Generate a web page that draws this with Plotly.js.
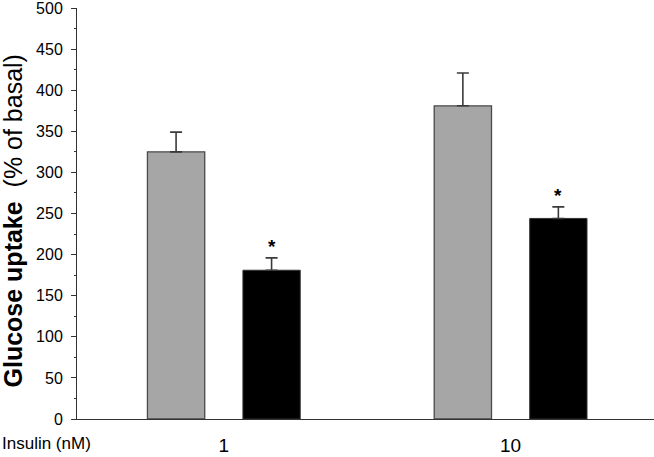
<!DOCTYPE html>
<html>
<head>
<meta charset="utf-8">
<script src="https://cdn.plot.ly/plotly-3.0.1.min.js"></script>
<style>
  body { margin: 0; background: #fff; }
  #plot { width: 654px; height: 457px; }
</style>
</head>
<body>
<div id="plot"></div>
<script>
// insulin doses (nM)
const doses = ['1', '10'];

// glucose uptake, % of basal
const controlVals = [325, 381];
const controlErr = [24, 40];
const treatedVals = [181, 244];
const treatedErr = [15, 14];
const treatedSignif = ['*', '*'];

const barGap = 0.334;
const barGroupGap = 0.4;

const font = 'Liberation Sans, Arial, Helvetica, sans-serif';

// one-sided error bars; the lower cap lies on the bar's top edge
function errBars(arr) {
    return {
        type: 'data', symmetric: false,
        array: arr, arrayminus: arr.map(function() { return 0; }),
        color: '#3a3a3a', thickness: 1.6, width: 6
    };
}

const control = {
    x: doses,
    y: controlVals,
    type: 'bar',
    marker: { color: '#a6a6a6', line: { color: '#4a4a4a', width: 1.3 } },
    error_y: errBars(controlErr),
    hoverinfo: 'skip'
};

const treated = {
    x: doses,
    y: treatedVals,
    type: 'bar',
    marker: { color: '#000000', line: { color: '#333333', width: 1 } },
    error_y: errBars(treatedErr),
    hoverinfo: 'skip'
};

// the black bar sits a quarter of the group width right of the category
const offset = (1 - barGap) / 4;
const notes = treatedSignif.map(function(s, i) {
    return {
        x: i + offset, y: treatedVals[i] + treatedErr[i],
        xref: 'x', yref: 'y',
        text: '<b>' + s + '</b>',
        showarrow: false,
        yanchor: 'bottom', yshift: -1,
        font: { family: font, size: 19, color: '#000' }
    };
});

notes.push({
    x: -77 / 577, xref: 'paper', xanchor: 'left',
    y: 0, yref: 'paper', yanchor: 'top', yshift: -13,
    text: 'Insulin (nM)',
    showarrow: false,
    font: { family: font, size: 17, color: '#000' }
});

// y title as a free annotation so it can sit close to the left edge
notes.push({
    x: (12 - 77) / 577, xref: 'paper', xanchor: 'center',
    y: 0.5, yref: 'paper', yanchor: 'middle', yshift: -8,
    textangle: -90,
    text: '<b>Glucose uptake</b>&nbsp;&nbsp;(% of basal)',
    showarrow: false,
    font: { family: font, size: 25, color: '#000' }
});

const layout = {
    width: 654,
    height: 457,
    margin: { l: 77, r: 0, t: 8, b: 38 },
    paper_bgcolor: '#fff',
    plot_bgcolor: '#fff',
    showlegend: false,
    barmode: 'group',
    bargap: barGap,
    bargroupgap: barGroupGap,
    font: { family: font, color: '#000' },
    xaxis: {
        type: 'category',
        range: [-0.512, 1.5],
        showline: true, linecolor: '#333', linewidth: 1,
        showgrid: false, zeroline: false,
        ticks: '',
        tickfont: { size: 19, color: '#000' },
        ticklabelstandoff: 9,
        ticklabeloverflow: 'allow'
    },
    yaxis: {
        range: [0, 500],
        dtick: 50,
        showline: true, linecolor: '#333', linewidth: 1,
        showgrid: false, zeroline: false,
        ticks: 'outside', ticklen: 5, tickcolor: '#333',
        minor: { dtick: 25, ticks: 'outside', ticklen: 2, tickcolor: '#333' },
        tickfont: { size: 16, color: '#000' },
        ticklabelstandoff: 5,
        ticklabeloverflow: 'allow'
    },
    annotations: notes
};

Plotly.newPlot('plot', [control, treated], layout, { displayModeBar: false, staticPlot: true });
</script>
</body>
</html>
